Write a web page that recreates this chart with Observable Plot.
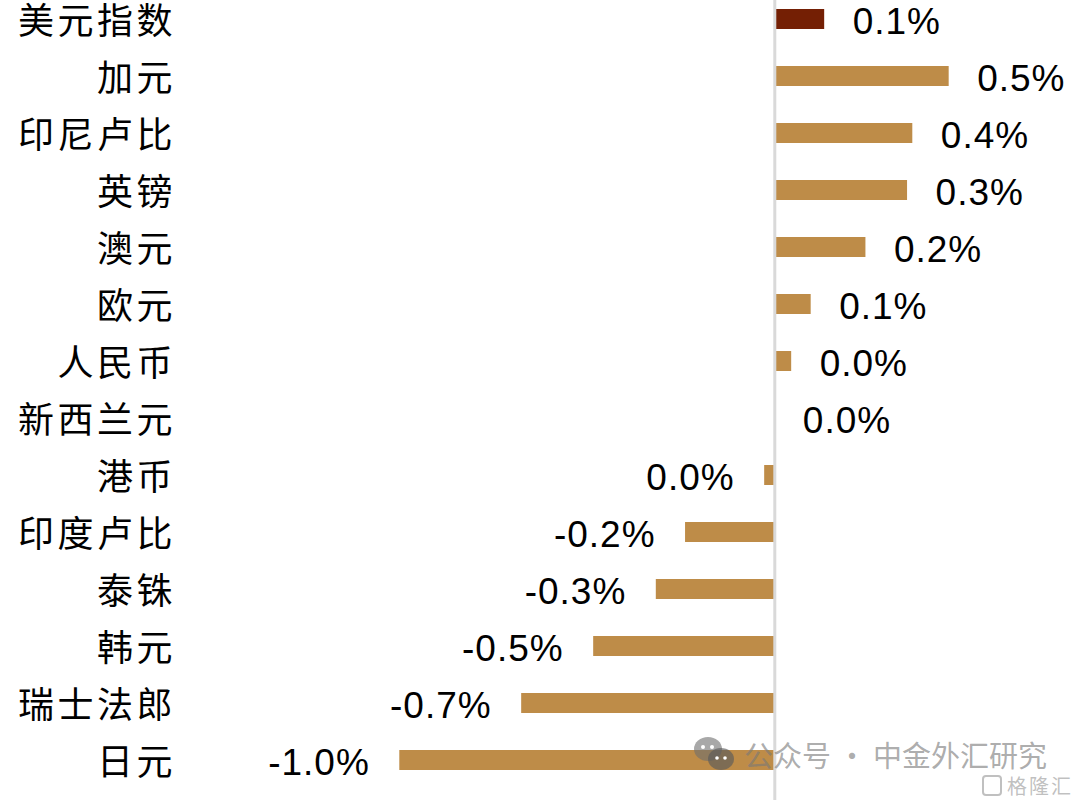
<!DOCTYPE html>
<html>
<head>
<meta charset="utf-8">
<script src="https://cdn.jsdelivr.net/npm/d3@7"></script>
<script src="https://cdn.jsdelivr.net/npm/@observablehq/plot@0.6"></script>
<style>
  html, body { margin: 0; padding: 0; background: #fff; }
  #wrap { position: relative; width: 1080px; height: 800px; overflow: hidden; }
  #chart text.num { letter-spacing: 1px; }
  #chart g[aria-label="y-axis tick label"] text { letter-spacing: 3.5px; }
  #wm { position: absolute; left: 692px; top: 735px; display: flex; align-items: center;
        font-family: "Noto Sans CJK SC", sans-serif; font-size: 29px; line-height: 36px; color: rgba(120,120,120,0.62); white-space: nowrap; }
  #wm svg { margin-right: 8px; }
  #logo { position: absolute; left: 982px; top: 775px; font-family: "Noto Sans CJK SC", sans-serif; white-space: nowrap;
          font-size: 20px; line-height: 20px; color: rgba(150,150,150,0.6); display: flex; align-items: center; letter-spacing: 2px; }
  #logo span.box { display:inline-block; width:16px; height:17px; border:2px solid rgba(150,150,150,0.6); border-radius:4px; margin-right:5px; }
</style>
</head>
<body>
<div id="wrap">
  <div id="chart"></div>
  <div id="wm">
    <svg width="44" height="38" viewBox="0 0 44 38">
      <ellipse cx="16" cy="14" rx="14" ry="12" fill="rgba(110,110,110,0.6)"/>
      <ellipse cx="29" cy="24" rx="13" ry="11" fill="rgba(90,90,90,0.65)"/>
      <circle cx="11" cy="12" r="2" fill="#fff"/><circle cx="20" cy="12" r="2" fill="#fff"/>
      <circle cx="25" cy="23" r="1.8" fill="#fff"/><circle cx="33" cy="23" r="1.8" fill="#fff"/>
    </svg>
    <span>公众号 · 中金外汇研究</span>
  </div>
  <div id="logo"><span class="box"></span>格隆汇</div>
</div>
<script>
const categories = ["美元指数","加元","印尼卢比","英镑","澳元","欧元","人民币","新西兰元","港币","印度卢比","泰铢","韩元","瑞士法郎","日元"];
const values = [0.133, 0.465, 0.368, 0.354, 0.243, 0.097, 0.045, 0.0, -0.027, -0.238, -0.316, -0.483, -0.675, -1.0];
const labels = ["0.1%","0.5%","0.4%","0.3%","0.2%","0.1%","0.0%","0.0%","0.0%","-0.2%","-0.3%","-0.5%","-0.7%","-1.0%"];
const highlighted = ["美元指数"];

const data = categories.map((c, i) => ({name: c, value: values[i], label: labels[i]}));
const tan = "#BE8C48";
const dark = "#741F04";

const chart = Plot.plot({
  width: 1080,
  height: 800,
  marginLeft: 180,
  marginRight: 0,
  marginTop: 0,
  marginBottom: 0,
  style: {fontFamily: "'Liberation Sans', Arial, sans-serif", background: "transparent", overflow: "visible"},
  x: {domain: [-1.5848, 0.8152], axis: null},
  y: {domain: categories, paddingInner: 0.65, paddingOuter: 0.305, align: 0.22, label: null, axis: null},
  marks: [
    Plot.barX(data.filter(d => !highlighted.includes(d.name)), {x: "value", y: "name", fill: tan}),
    Plot.barX(data.filter(d => highlighted.includes(d.name)), {x: "value", y: "name", fill: dark}),
    Plot.ruleX([0], {stroke: "#d9d9d9", strokeWidth: 3}),
    Plot.text(data.filter(d => d.value >= 0), {x: "value", y: "name", text: "label", textAnchor: "start", dx: 28, dy: 3, fontSize: 37, fill: "#000"}),
    Plot.text(data.filter(d => d.value < 0), {x: "value", y: "name", text: "label", textAnchor: "end", dx: -30, dy: 3, fontSize: 37, fill: "#000"}),
    Plot.axisY({tickSize: 0, tickPadding: 4.5, dy: 3, fontSize: 36, fontFamily: "'Noto Sans CJK SC', sans-serif", fill: "#000", label: null})
  ]
});
chart.querySelectorAll("g[aria-label='text'] text").forEach(t => t.classList.add("num"));
document.getElementById("chart").appendChild(chart);
</script>
</body>
</html>
